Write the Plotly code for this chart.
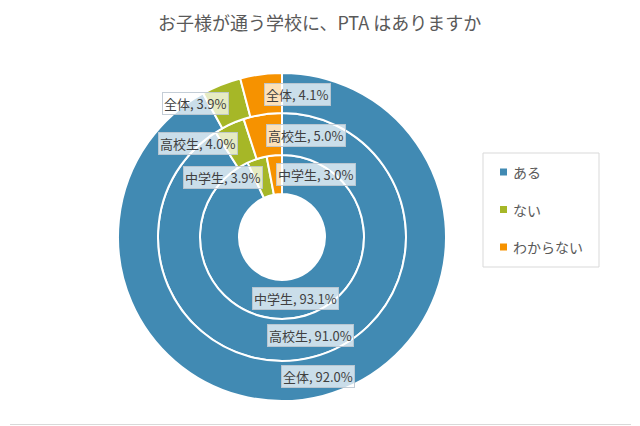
import math
import plotly.graph_objects as go

# ---- data ----
categories = ["ある", "ない", "わからない"]
groups = ["中学生", "高校生", "全体"]          # inner -> outer ring
values_chugaku = [93.1, 3.9, 3.0]
values_koko = [91.0, 4.0, 5.0]
values_zentai = [92.0, 3.9, 4.1]
title_text = "お子様が通う学校に、PTA はありますか"

colors = ["#418AB3", "#A6B727", "#F69200"]
W, H = 640, 426
CX, CY = 282, 237
# (inner radius, outer radius) per ring in px
rings = [(43, 82), (82, 124), (124, 164)]
series = [values_chugaku, values_koko, values_zentai]

fig = go.Figure()
annotations = []
for g, vals, (r_in, r_out) in zip(groups, series, rings):
    fig.add_trace(go.Pie(
        labels=categories, values=vals, sort=False, direction="clockwise",
        rotation=0, hole=r_in / r_out, textinfo="none", hoverinfo="label+value+name",
        name=g, showlegend=False,
        marker=dict(colors=colors, line=dict(color="white", width=2)),
        domain=dict(x=[(CX - r_out) / W, (CX + r_out) / W],
                    y=[(H - CY - r_out) / H, (H - CY + r_out) / H]),
    ))
    total = sum(vals)
    cum = 0.0
    r_mid = (r_in + r_out) / 2
    for i, v in enumerate(vals):
        mid = (cum + v / 2) / total * 2 * math.pi
        cum += v
        px = CX + r_mid * math.sin(mid)
        py = CY - r_mid * math.cos(mid)
        xanchor = ["center", "right", "left"][i]
        annotations.append(dict(
            x=px / W, y=1 - py / H, xref="paper", yref="paper",
            text=f"{g}, {v:.1f}%", showarrow=False, xanchor=xanchor, yanchor="middle",
            font=dict(family="Noto Sans CJK JP", size=13, color="#404040"),
            bgcolor="rgba(255,255,255,0.72)", bordercolor="rgba(190,200,210,0.9)",
            borderwidth=1, borderpad=1,
        ))

# manual legend
shapes = [dict(type="rect", xref="paper", yref="paper",
               x0=483 / W, x1=599 / W, y0=1 - 267 / H, y1=1 - 153 / H,
               line=dict(color="#D9D9D9", width=1), fillcolor="white", layer="below"),
          dict(type="line", xref="paper", yref="paper",
               x0=10 / W, x1=631 / W, y0=1 - 424.5 / H, y1=1 - 424.5 / H,
               line=dict(color="#D9D9D9", width=1))]
for i, (cat, col) in enumerate(zip(categories, colors)):
    yc = 172 + i * 37.5
    shapes.append(dict(type="rect", xref="paper", yref="paper",
                       x0=500 / W, x1=507 / W, y0=1 - (yc + 3.5) / H, y1=1 - (yc - 3.5) / H,
                       line=dict(width=0), fillcolor=col))
    annotations.append(dict(x=511 / W, y=1 - yc / H, xref="paper", yref="paper",
                            text=cat, showarrow=False, xanchor="left", yanchor="middle",
                            font=dict(family="Noto Sans CJK JP", size=14, color="#595959")))

annotations.append(dict(x=319 / W, y=1 - 22 / H, xref="paper", yref="paper",
                        text=title_text, showarrow=False, xanchor="center", yanchor="middle",
                        font=dict(family="Noto Sans CJK JP", size=18, color="#595959")))

fig.update_layout(
    width=W, height=H, margin=dict(l=0, r=0, t=0, b=0),
    paper_bgcolor="white", plot_bgcolor="white",
    annotations=annotations, shapes=shapes, showlegend=False,
)
fig.write_html("out.html")
